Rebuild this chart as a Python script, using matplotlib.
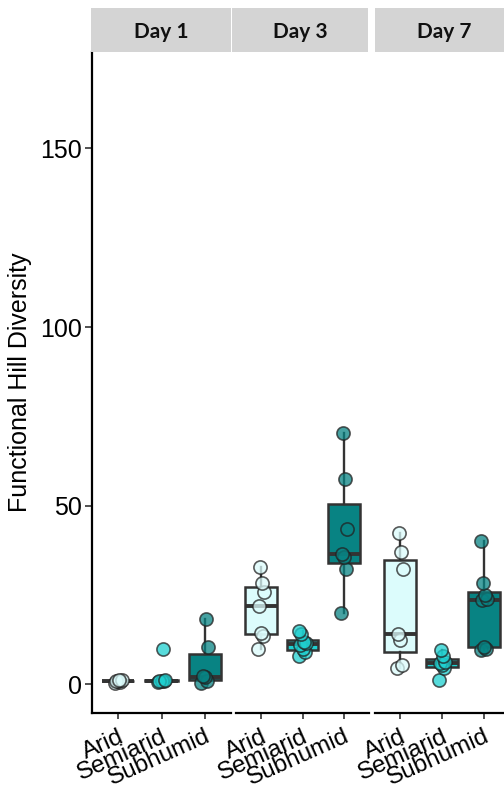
import numpy as np
import matplotlib.pyplot as plt
from matplotlib.patches import Rectangle

days = ["Day 1", "Day 3", "Day 7"]
regions = ["Arid", "Semiarid", "Subhumid"]
region_colors = {"Arid": "#dcfcfc", "Semiarid": "#1fd0d0", "Subhumid": "#088383"}

# Functional Hill diversity per sample
day1_arid = [0.5, 0.8, 0.9, 1.0, 1.1, 1.3]
day1_semiarid = [0.7, 0.9, 1.0, 1.0, 1.2, 10.0]
day1_subhumid = [0.5, 0.9, 2.0, 2.4, 10.5, 18.2]
day3_arid = [10.0, 13.5, 14.5, 22.0, 26.0, 28.5, 33.0]
day3_semiarid = [8.0, 9.0, 10.0, 11.0, 11.5, 12.0, 14.0, 15.0]
day3_subhumid = [20.1, 32.4, 35.8, 36.6, 43.6, 57.5, 70.4]
day7_arid = [4.5, 5.5, 12.5, 14.2, 32.4, 37.2, 42.4]
day7_semiarid = [1.2, 4.5, 5.5, 6.0, 6.3, 8.0, 9.5]
day7_subhumid = [9.5, 10.0, 10.5, 23.5, 24.0, 25.0, 28.5, 40.0]

values = {
    "Day 1": [day1_arid, day1_semiarid, day1_subhumid],
    "Day 3": [day3_arid, day3_semiarid, day3_subhumid],
    "Day 7": [day7_arid, day7_semiarid, day7_subhumid],
}

fig = plt.figure(figsize=(5.04, 7.91), dpi=100)
W, H = 504.0, 791.0
panel_top, panel_bot = 52, 713
panels_px = [(92, 231), (236, 369), (375, 509)]
strips_px = [(91, 231), (232, 368), (375, 513)]

edge = "#333333"
for i, day in enumerate(days):
    x0, x1 = panels_px[i]
    ax = fig.add_axes([x0 / W, 1 - panel_bot / H, (x1 - x0) / W, (panel_bot - panel_top) / H])
    data = values[day]
    pos = np.arange(1, len(regions) + 1)
    bp = ax.boxplot(data, positions=pos, widths=0.75, patch_artist=True,
                    showfliers=False, showcaps=False,
                    medianprops=dict(color=edge, linewidth=2.8),
                    whiskerprops=dict(color=edge, linewidth=1.7),
                    boxprops=dict(edgecolor=edge, linewidth=1.8), zorder=2)
    for patch, r in zip(bp["boxes"], regions):
        patch.set_facecolor(region_colors[r])
    for j, r in enumerate(regions):
        vals = data[j]
        n = len(vals)
        offs = np.array([((k * 5) % 7 - 3) / 3.0 * 0.08 for k in range(n)])
        ax.scatter(pos[j] + offs, vals, s=90, facecolor=region_colors[r],
                   edgecolor="#222222", linewidth=1.2, alpha=0.75, zorder=3)
    ax.set_xlim(0.4, 3.6)
    ax.set_ylim(-8, 177)
    ax.set_xticks(pos)
    ax.set_xticklabels(regions, rotation=24, ha="right", va="top",
                       rotation_mode="anchor", fontsize=17.5, family="Liberation Sans")
    ax.tick_params(axis="x", length=4, width=1.2, color=edge, pad=5)
    for s in ["top", "right"]:
        ax.spines[s].set_visible(False)
    ax.spines["bottom"].set_linewidth(1.6)
    ax.spines["left"].set_linewidth(1.6)
    if i == 0:
        ax.set_yticks([0, 50, 100, 150])
        ax.set_yticklabels(["0", "50", "100", "150"], fontsize=18, family="Liberation Sans")
        ax.tick_params(axis="y", length=5, width=1.2, color=edge, pad=2)
        ax.set_ylabel("Functional Hill Diversity", fontsize=18, family="Liberation Sans", labelpad=6)
    else:
        ax.spines["left"].set_visible(False)
        ax.set_yticks([])

    sx0, sx1 = strips_px[i]
    fig.patches.append(Rectangle((sx0 / W, 1 - panel_top / H), (sx1 - sx0) / W, 44 / H,
                                 transform=fig.transFigure, facecolor="#d4d4d4",
                                 edgecolor="none", zorder=0))
    fig.text((sx0 + sx1) / 2 / W, 1 - 32 / H, day, ha="center", va="center",
             fontsize=15, fontweight="bold", family="Lato", color="#111111")

fig.savefig("out.png", dpi=100)
